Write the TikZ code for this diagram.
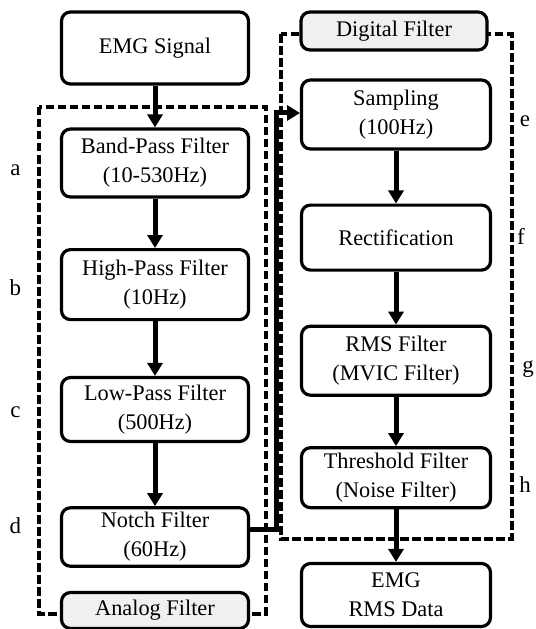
\documentclass[tikz,border=0pt]{standalone}
\usepackage{fontspec}
\setmainfont{Liberation Serif}
\usetikzlibrary{arrows.meta}
\tikzset{
  box/.style={draw=black, line width=3.2bp, rounded corners=9bp, fill=white, align=center, inner sep=0pt, font=\fontsize{22.4}{29}\selectfont},
  lbox/.style={box, minimum width=187bp},
  rbox/.style={box, minimum width=189bp},
  tagbox/.style={box, fill=gray!12},
  flow/.style={line width=5bp, -{Triangle[length=13bp,width=15bp]}},
  group/.style={line width=4bp, dash pattern=on 8.5bp off 3.5bp},
  letter/.style={font=\fontsize{23}{26}\selectfont, anchor=base, inner sep=0pt}
}
\begin{document}
\begin{tikzpicture}[x=1bp,y=-1bp]
\useasboundingbox (0,0) rectangle (536,629);
% dashed groups
\draw[group] (38.6,107) rectangle (266,613.5);
\draw[group] (280.5,34.2) rectangle (511.5,538.5);
% left column
\node[lbox, minimum height=72bp] (emg) at (155,48) {EMG Signal};
\node[lbox, minimum height=68bp] (bp) at (155,163) {Band-Pass Filter\\(10-530Hz)};
\node[lbox, minimum height=70bp] (hp) at (155,284.6) {High-Pass Filter\\(10Hz)};
\node[lbox, minimum height=64bp] (lp) at (155,409.5) {Low-Pass Filter\\(500Hz)};
\node[lbox, minimum height=58.5bp] (nf) at (155,537) {Notch Filter\\(60Hz)};
\node[tagbox, minimum width=187bp, minimum height=36bp] (af) at (155,610.5) {Analog Filter};
% right column
\node[tagbox, minimum width=186bp, minimum height=38bp] (df) at (394,31) {Digital Filter};
\node[rbox, minimum height=69bp] (sa) at (396,114.5) {Sampling\\(100Hz)};
\node[rbox, minimum height=65bp] (re) at (396,237.6) {Rectification};
\node[rbox, minimum height=69bp] (rms) at (396,360.7) {RMS Filter\\(MVIC Filter)};
\node[rbox, minimum height=60bp] (th) at (396,477.7) {Threshold Filter\\(Noise Filter)};
\node[rbox, minimum height=63bp] (out) at (396,595) {EMG\\RMS Data};
% arrows
\draw[flow] (emg) -- (bp);
\draw[flow] (bp) -- (hp);
\draw[flow] (hp) -- (lp);
\draw[flow] (lp) -- (nf);
\coordinate (j0) at (250,529);
\coordinate (j1) at (276.5,529);
\coordinate (j2) at (276.5,113);
\coordinate (j3) at (300,113);
\draw[flow] (j0) -- (j1) -- (j2) -- (j3);
\draw[flow] (sa) -- (re);
\draw[flow] (re) -- (rms);
\draw[flow] (rms) -- (th);
\draw[flow] (th) -- (out);
% letters
\node[letter] (la) at (15.4,176) {a};
\node[letter] (lb) at (15.4,295.7) {b};
\node[letter] (lc) at (15.4,417) {c};
\node[letter] (ld) at (15.4,533) {d};
\node[letter] (le) at (525,126.5) {e};
\node[letter] (lf) at (521,244.4) {f};
\node[letter] (lg) at (528,372.6) {g};
\node[letter] (lh) at (525,492.3) {h};
\end{tikzpicture}
\end{document}
